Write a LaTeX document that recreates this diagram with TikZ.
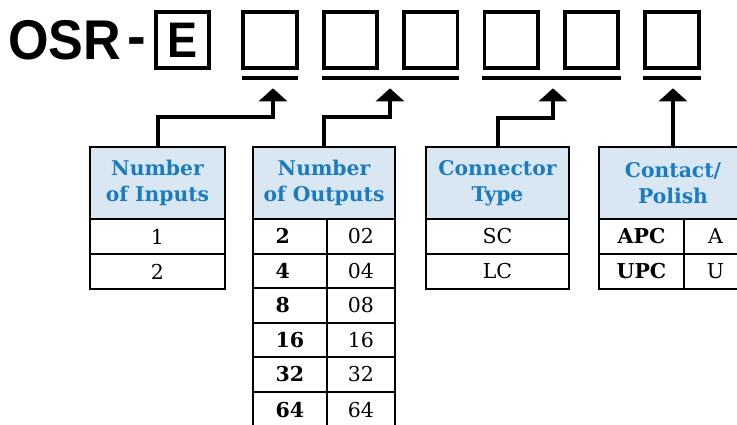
\documentclass[tikz,border=0pt]{standalone}
\usepackage{fontspec}
\usepackage{graphicx}
\setmainfont{DejaVu Serif}
\newfontfamily\codefont{Liberation Sans}
\usetikzlibrary{arrows.meta,calc}
\definecolor{hdrfill}{HTML}{D9E7F2}
\definecolor{hdrtext}{HTML}{1A7BC0}
\begin{document}
\begin{tikzpicture}[x=1pt,y=-1pt,
  cell/.style={draw, line width=2pt, inner sep=0pt, anchor=center, font=\fontsize{20.5}{22}\selectfont},
  lcell/.style={cell, text width=29pt, align=left},
  hdr/.style={cell, fill=hdrfill, text=hdrtext, align=center, font=\fontsize{20.3}{26}\selectfont\bfseries},
  slot/.style={draw, line width=3.8pt, minimum width=53.5pt, minimum height=56.5pt, inner sep=0pt},
  uline/.style={fill=black, inner sep=0pt, minimum height=4.2pt},
  arr/.style={line width=4pt, -{Triangle[width=28pt,length=13pt]}}
]
\useasboundingbox (0,0) rectangle (737,425);

% title
\node[anchor=base west, inner sep=0pt, font=\codefont\bfseries\fontsize{56}{56}\selectfont] (osr) at (8,60)
  {\scalebox{0.93}[1]{OSR}\hspace{6pt}\raisebox{4pt}{-}};
\node[slot] (e) at (182.5,40) {\codefont\bfseries\fontsize{50}{50}\selectfont\scalebox{0.9}[1]{E}};
\node[slot] (b1) at (270,40) {};
\node[slot] (b2) at (350.4,40) {};
\node[slot] (b3) at (430.8,40) {};
\node[slot] (b4) at (511.2,40) {};
\node[slot] (b5) at (591.6,40) {};
\node[slot] (b6) at (672,40) {};

% underlines
\node[uline, minimum width=56pt] (u1) at (270,78) {};
\node[uline, minimum width=137pt] (u2) at (390.5,78) {};
\node[uline, minimum width=139pt] (u3) at (551.5,78) {};
\node[uline, minimum width=58pt] (u4) at (672,78) {};

% table 1
\node[hdr, minimum width=135pt, minimum height=72pt] (t1h) at (157.5,183) {Number\\of Inputs};
\node[cell, minimum width=135pt, minimum height=35pt] (t1r1) at (157.5,236.5) {1};
\node[cell, minimum width=135pt, minimum height=35pt] (t1r2) at (157.5,271.5) {2};

% table 2
\node[hdr, minimum width=142pt, minimum height=72pt] (t2h) at (324,183) {Number\\of Outputs};
\node[lcell, minimum width=74pt, minimum height=34.5pt] (t2a1) at (290,236.25) {\bfseries 2};
\node[cell, minimum width=68pt, minimum height=34.5pt] (t2b1) at (361,236.25) {02};
\node[lcell, minimum width=74pt, minimum height=34.5pt] (t2a2) at (290,270.75) {\bfseries 4};
\node[cell, minimum width=68pt, minimum height=34.5pt] (t2b2) at (361,270.75) {04};
\node[lcell, minimum width=74pt, minimum height=34.5pt] (t2a3) at (290,305.25) {\bfseries 8};
\node[cell, minimum width=68pt, minimum height=34.5pt] (t2b3) at (361,305.25) {08};
\node[lcell, minimum width=74pt, minimum height=34.5pt] (t2a4) at (290,339.75) {\bfseries 16};
\node[cell, minimum width=68pt, minimum height=34.5pt] (t2b4) at (361,339.75) {16};
\node[lcell, minimum width=74pt, minimum height=34.5pt] (t2a5) at (290,374.25) {\bfseries 32};
\node[cell, minimum width=68pt, minimum height=34.5pt] (t2b5) at (361,374.25) {32};
\node[lcell, minimum width=74pt, minimum height=38pt] (t2a6) at (290,410.5) {\raisebox{1.75pt}{\bfseries 64}};
\node[cell, minimum width=68pt, minimum height=38pt] (t2b6) at (361,410.5) {\raisebox{1.75pt}{64}};

% table 3
\node[hdr, minimum width=143pt, minimum height=72pt] (t3h) at (497.5,183) {Connector\\Type};
\node[cell, minimum width=143pt, minimum height=35pt] (t3r1) at (497.5,236.5) {SC};
\node[cell, minimum width=143pt, minimum height=35pt] (t3r2) at (497.5,271.5) {LC};

% table 4
\node[hdr, minimum width=148pt, minimum height=72pt] (t4h) at (673,183) {Contact/\\Polish};
\node[cell, minimum width=85pt, minimum height=35pt] (t4a1) at (641.5,236.5) {\bfseries APC};
\node[cell, minimum width=63pt, minimum height=35pt] (t4b1) at (715.5,236.5) {A};
\node[cell, minimum width=85pt, minimum height=35pt] (t4a2) at (641.5,271.5) {\bfseries UPC};
\node[cell, minimum width=63pt, minimum height=35pt] (t4b2) at (715.5,271.5) {U};

% connectors
\draw[arr] (t1h.north) -- (t1h.north |- 0,117) -| ([xshift=3pt,yshift=-8pt]u1.south);
\draw[arr] (t2h.north) -- (t2h.north |- 0,117) -| ([xshift=-0.5pt,yshift=-8pt]u2.south);
\draw[arr] (t3h.north) -- (t3h.north |- 0,118) -| ([xshift=1.5pt,yshift=-8pt]u3.south);
\draw[arr] (t4h.north) -- ($(t4h.north |- u4.south)+(0,8)$);
\end{tikzpicture}
\end{document}
